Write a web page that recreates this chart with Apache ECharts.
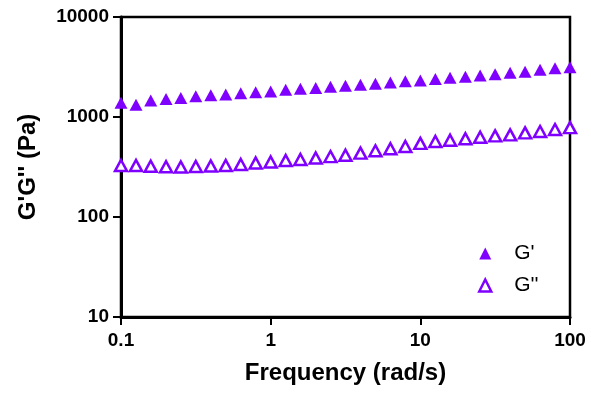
<!DOCTYPE html>
<html>
<head>
<meta charset="utf-8">
<script src="https://cdn.jsdelivr.net/npm/echarts@6/dist/echarts.min.js"></script>
<style>
  html, body { margin: 0; padding: 0; background: #fff; }
  #chart { width: 591px; height: 394px; }
</style>
</head>
<body>
<div id="chart"></div>
<script>
// angular frequency (rad/s), 10 points per decade
const freq = [0.1, 0.126, 0.158, 0.2, 0.251, 0.316, 0.398, 0.501, 0.631, 0.794,
  1, 1.26, 1.58, 2, 2.51, 3.16, 3.98, 5.01, 6.31, 7.94,
  10, 12.6, 15.8, 20, 25.1, 31.6, 39.8, 50.1, 63.1, 79.4, 100];

// storage modulus G' (Pa)
const gStorage = [1387, 1324, 1462, 1514, 1549, 1611, 1648, 1679, 1726, 1766,
  1795, 1875, 1919, 1950, 2009, 2051, 2104, 2153, 2213, 2275,
  2317, 2399, 2472, 2529, 2600, 2679, 2767, 2838, 2965, 3069, 3148];

// loss modulus G'' (Pa)
const gLoss = [327, 327, 322, 318, 316, 320, 324, 327, 335, 347,
  355, 367, 376, 389, 402, 415, 435, 459, 481, 507,
  545, 569, 586, 607, 628, 648, 663, 694, 715, 749, 783];

const seriesNames = ["G'", "G''"];

const font = 'Arial, "Liberation Sans", sans-serif';
const purple = "#8000FF";

const chart = echarts.init(document.getElementById("chart"));

const option = {
  backgroundColor: "#fff",
  animation: false,
  grid: {
    left: 121,
    right: 21,
    top: 17,
    bottom: 77,
    show: true,
    borderColor: "#000",
    borderWidth: 2.5,
  },
  legend: {
    data: [
      { name: seriesNames[0] },
      { name: seriesNames[1], itemStyle: { borderWidth: 2.5 } },
    ],
    orient: "vertical",
    left: 473,
    top: 238,
    itemWidth: 12,
    itemHeight: 12,
    itemGap: 11,
    textStyle: {
      fontFamily: font,
      fontSize: 21,
      color: "#000",
      padding: [0, 0, 0, 18],
    },
  },
  xAxis: {
    type: "log",
    logBase: 10,
    min: 0.1,
    max: 100,
    name: "Frequency (rad/s)",
    nameLocation: "middle",
    nameGap: 44,
    nameTextStyle: { fontFamily: font, fontSize: 24, fontWeight: "bold", color: "#000" },
    axisLine: { show: true, lineStyle: { color: "#000", width: 3 } },
    axisTick: { show: true, length: 8, lineStyle: { color: "#000", width: 2 } },
    minorTick: { show: false },
    splitLine: { show: false },
    axisLabel: {
      margin: 14,
      fontFamily: font,
      fontSize: 19,
      fontWeight: "bold",
      color: "#000",
      formatter: (v) => String(v),
    },
  },
  yAxis: {
    type: "log",
    logBase: 10,
    min: 10,
    max: 10000,
    name: "G'G'' (Pa)",
    nameLocation: "middle",
    nameGap: 81,
    nameTextStyle: { fontFamily: font, fontSize: 24, fontWeight: "bold", color: "#000" },
    axisLine: { show: true, lineStyle: { color: "#000", width: 3 } },
    axisTick: { show: true, length: 8, lineStyle: { color: "#000", width: 2 } },
    minorTick: { show: false },
    splitLine: { show: false },
    axisLabel: {
      margin: 12,
      fontFamily: font,
      fontSize: 19,
      fontWeight: "bold",
      color: "#000",
      formatter: (v) => String(v),
    },
  },
  series: [
    {
      name: seriesNames[0],
      type: "scatter",
      symbol: "triangle",
      symbolSize: [13, 12],
      itemStyle: { color: purple, opacity: 1 },
      data: freq.map((f, i) => [f, gStorage[i]]),
    },
    {
      name: seriesNames[1],
      type: "scatter",
      symbol: "triangle",
      symbolSize: [12, 11],
      itemStyle: { color: "#fff", borderColor: purple, borderWidth: 2.5, opacity: 1 },
      data: freq.map((f, i) => [f, gLoss[i]]),
    },
  ],
};

chart.setOption(option);
</script>
</body>
</html>
